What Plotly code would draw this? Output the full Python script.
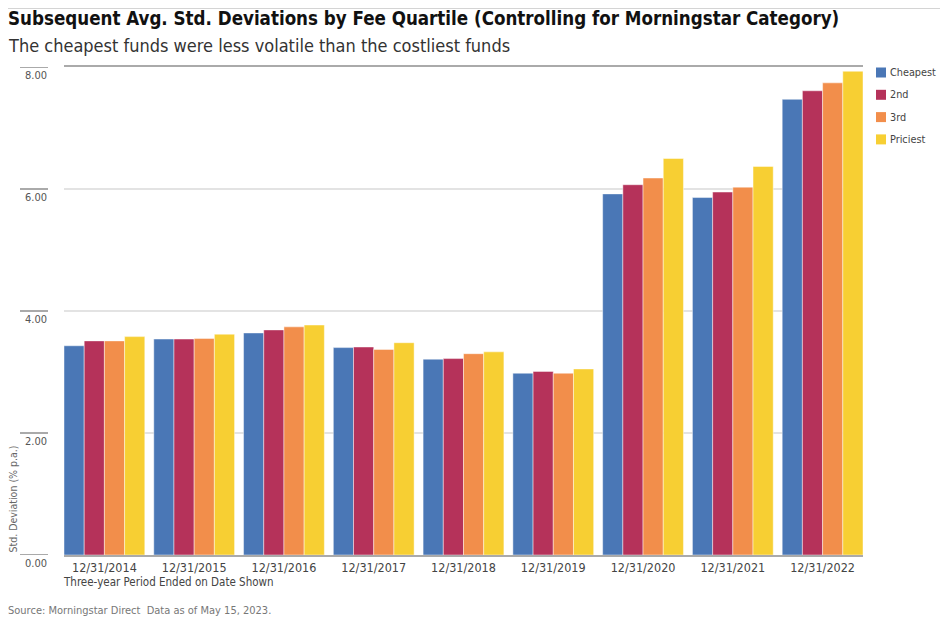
import plotly.graph_objs as go

# data
periods = ['12/31/2014', '12/31/2015', '12/31/2016', '12/31/2017', '12/31/2018',
           '12/31/2019', '12/31/2020', '12/31/2021', '12/31/2022']
cheapest = [3.43, 3.54, 3.64, 3.40, 3.21, 2.98, 5.92, 5.86, 7.47]
second = [3.51, 3.54, 3.69, 3.41, 3.22, 3.01, 6.07, 5.95, 7.61]
third = [3.51, 3.55, 3.74, 3.37, 3.30, 2.98, 6.18, 6.03, 7.74]
priciest = [3.58, 3.62, 3.77, 3.48, 3.33, 3.05, 6.50, 6.37, 7.93]
y_ticks = [0, 2, 4, 6, 8]
y_tick_text = ['0.00', '2.00', '4.00', '6.00', '8.00']

font = 'DejaVu Sans Condensed, Roboto, sans-serif'
series = [('Cheapest', cheapest, '#4a77b6'),
          ('2nd', second, '#b5325a'),
          ('3rd', third, '#f28e4b'),
          ('Priciest', priciest, '#f7cf33')]

data = []
for name, vals, color in series:
    data.append(go.Bar(
        x=periods,
        y=vals,
        name=name,
        showlegend=False,
        marker=dict(color=color, line=dict(color='rgba(255,255,255,0.45)', width=1))))

# plot area is 799 x 488 px; offsets below are in those units
W, H = 799, 488

# left-hand tick stubs, drawn away from the plot edge
shapes = []
for t in y_ticks:
    shapes.append(dict(type='line', xref='paper', yref='y',
                       x0=-44 / W, x1=-16 / W, y0=t, y1=t,
                       line=dict(color='#aaaaaa', width=2)))
# thin rule along the very top of the page
shapes.append(dict(type='line', xref='paper', yref='paper',
                   x0=-56 / W, x1=876 / W, y0=1 + 59 / H, y1=1 + 59 / H,
                   line=dict(color='#aaaaaa', width=1)))

annotations = [
    dict(text='<b>Subsequent Avg. Std. Deviations by Fee Quartile (Controlling for Morningstar Category)</b>',
         xref='paper', yref='paper', x=-58 / W, y=1, xanchor='left', yanchor='middle',
         yshift=49, showarrow=False, font=dict(family=font, size=18.6, color='#111111')),
    dict(text='The cheapest funds were less volatile than the costliest funds',
         xref='paper', yref='paper', x=-58 / W, y=1, xanchor='left', yanchor='middle',
         yshift=22, showarrow=False, font=dict(family=font, size=18, color='#333333')),
    dict(text='Three-year Period Ended on Date Shown',
         xref='paper', yref='paper', x=-3 / W, y=0, xanchor='left', yanchor='middle',
         yshift=-27, showarrow=False, font=dict(family=font, size=11.5, color='#444444')),
    dict(text='Source: Morningstar Direct  Data as of May 15, 2023.',
         xref='paper', yref='paper', x=-58 / W, y=0, xanchor='left', yanchor='middle',
         yshift=-55, showarrow=False, font=dict(family=font, size=11, color='#777777')),
    dict(text='Std. Deviation (% p.a.)', textangle=-90,
         xref='paper', yref='paper', x=-52 / W, y=0, xanchor='center', yanchor='bottom',
         showarrow=False, font=dict(family=font, size=10.5, color='#666666')),
]

# legend drawn by hand to the right of the plot (squares + labels)
for i, (name, vals, color) in enumerate(series):
    yc = 1 - (5.5 + 22.3 * i) / H
    shapes.append(dict(type='rect', xref='paper', yref='paper',
                       x0=812 / W, x1=822 / W, y0=yc - 5 / H, y1=yc + 5 / H,
                       fillcolor=color, line=dict(width=0)))
    annotations.append(dict(text=name, xref='paper', yref='paper',
                            x=824 / W, y=yc, xanchor='left', yanchor='middle',
                            showarrow=False,
                            font=dict(family=font, size=10.8, color='#444444')))

layout = go.Layout(
    width=932,
    height=610,
    margin=dict(l=56, r=77, t=59, b=63),
    paper_bgcolor='white',
    plot_bgcolor='white',
    barmode='group',
    bargap=0.1,
    bargroupgap=0,
    showlegend=False,
    xaxis=dict(range=[-0.45, 8.45], showgrid=False, showline=True, mirror=True,
               linecolor='#aaaaaa', linewidth=2, ticks='',
               tickfont=dict(family=font, size=12.5, color='#444444')),
    yaxis=dict(range=[0, 8], tickvals=y_ticks, ticktext=y_tick_text,
               showgrid=True, gridcolor='#e3e3e3', gridwidth=2, zeroline=False,
               ticks='', ticklabelposition='outside bottom', ticklabelstandoff=16,
               tickfont=dict(family=font, size=11, color='#555555')),
    shapes=shapes,
    annotations=annotations,
)

fig = go.Figure(data=data, layout=layout)
fig.write_html('out.html')
